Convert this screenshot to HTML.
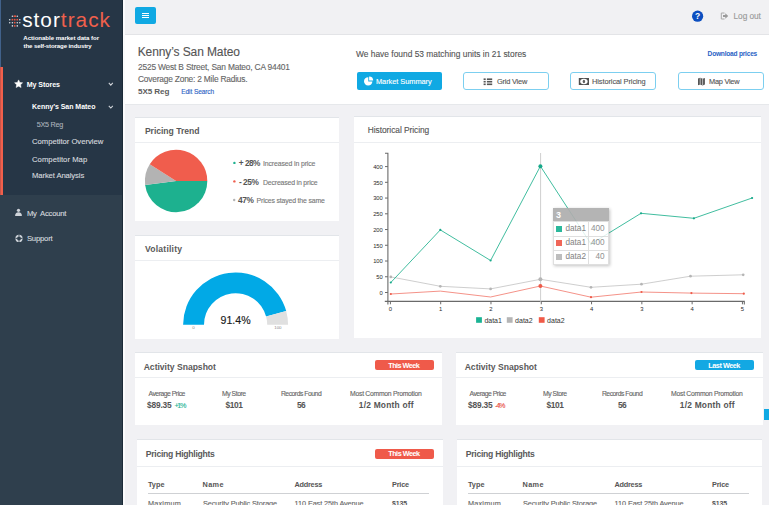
<!DOCTYPE html>
<html><head><meta charset="utf-8"><title>StorTrack</title>
<style>
*{box-sizing:border-box}
html,body{margin:0;padding:0}
body{width:769px;height:505px;overflow:hidden;position:relative;background:#f1f1f4;font-family:'Liberation Sans',Arial,sans-serif}
.a{position:absolute}
.t{position:absolute;white-space:pre;font-family:'Liberation Sans',Arial,sans-serif}
.card{position:absolute;background:#fff;border-top:1px solid #e2e5e9}
.hd{position:absolute;left:0;right:0;height:1px;background:#eceef1}
.btn{position:absolute;top:72px;height:18px;border:1px solid #7ccff0;border-radius:3px;background:#fff}
.badge{position:absolute;border-radius:2px}
</style></head><body>
<!-- sidebar -->
<div class="a" style="left:0;top:0;width:123px;height:505px;background:#2f3f4d"></div>
<div class="a" style="left:0;top:0;width:123px;height:195px;background:#263646"></div>
<div class="a" style="left:122px;top:0;width:1px;height:505px;background:#1b2a37"></div>
<div class="a" style="left:123px;top:0;width:2px;height:505px;background:#fbfbfc"></div>
<div class="a" style="left:0;top:0;width:1px;height:67px;background:#41618a"></div>
<div class="a" style="left:0;top:67px;width:3px;height:128px;background:#f05f4b"></div>
<div class="a" style="left:0;top:67px;width:1px;height:128px;background:#c9544a"></div>
<!-- logo -->
<svg class="a" style="left:0;top:0" width="123" height="60" viewBox="0 0 123 60">
 <g fill="#d9dde2">
  <circle cx="12.4" cy="16.2" r="0.8"/><circle cx="17.3" cy="16.2" r="0.8"/>
  <circle cx="9.7" cy="19.7" r="0.8"/><circle cx="19.8" cy="19.7" r="0.8"/>
  <circle cx="9.7" cy="22.7" r="0.8"/><circle cx="12.4" cy="22.7" r="0.8"/><circle cx="17.3" cy="22.7" r="0.8"/><circle cx="19.8" cy="22.7" r="0.8"/>
  <circle cx="12.4" cy="25.9" r="0.8"/><circle cx="17.3" cy="25.9" r="0.8"/>
 </g>
 <g fill="#e8553f">
  <rect x="13.6" y="15.4" width="2.4" height="1.6"/>
  <circle cx="12.4" cy="19.7" r="0.9"/><circle cx="14.75" cy="19.7" r="0.9"/><circle cx="17.3" cy="19.7" r="0.9"/>
  <circle cx="14.75" cy="22.7" r="0.9"/><circle cx="14.75" cy="25.9" r="0.9"/>
 </g>
</svg>
<div class="t" style="left:22.2px;top:10.4px;font-size:20.8px;line-height:20.8px;letter-spacing:1.0px;color:#fff">stor<span style="color:#f0604c">track</span></div>
<!-- sidebar icons -->
<svg class="a" style="left:0;top:60px" width="123" height="200" viewBox="0 60 123 200">
 <polygon fill="#fff" stroke="#fff" stroke-width="0.5" stroke-linejoin="round" points="18.60,79.90 19.80,82.44 22.59,82.80 20.55,84.73 21.07,87.50 18.60,86.15 16.13,87.50 16.65,84.73 14.61,82.80 17.40,82.44"/>
 <polyline fill="none" stroke="#d0d4d9" stroke-width="1.1" points="108.8,82.9 110.8,85.1 112.8,82.9"/>
 <polyline fill="none" stroke="#d0d4d9" stroke-width="1.1" points="108.8,105.8 110.8,108 112.8,105.8"/>
 <g fill="#cfd4da">
  <circle cx="18.5" cy="210.3" r="1.6"/>
  <path d="M15.1 216 C15.1 213.4 16.3 212.3 18.5 212.3 C20.7 212.3 21.9 213.4 21.9 216 Z"/>
 </g>
 <g fill="none" stroke="#cfd4da">
  <circle cx="19" cy="238.4" r="2.8" stroke-width="1.6"/>
 </g>
 <g stroke="#2f3f4d" stroke-width="0.9">
  <line x1="19" y1="235" x2="19" y2="236.6"/><line x1="19" y1="240.2" x2="19" y2="241.8"/>
  <line x1="15.6" y1="238.4" x2="17.2" y2="238.4"/><line x1="20.8" y1="238.4" x2="22.4" y2="238.4"/>
 </g>
</svg>
<!-- header -->
<div class="a" style="left:125px;top:0;width:644px;height:35px;background:#f1f1f3;border-bottom:1px solid #e3e4e7"></div>
<div class="a" style="left:135px;top:7px;width:21px;height:17px;background:#10a9e3;border-radius:2px"></div>
<div class="a" style="left:142px;top:12.8px;width:6.6px;height:1px;background:#fff"></div>
<div class="a" style="left:142px;top:14.9px;width:6.6px;height:1px;background:#fff"></div>
<div class="a" style="left:142px;top:17.1px;width:6.6px;height:1px;background:#fff"></div>
<svg class="a" style="left:680px;top:0" width="89" height="34" viewBox="680 0 89 34">
 <circle cx="697.6" cy="16.2" r="5.6" fill="#0c4fc0"/>
 <text x="697.6" y="19.3" text-anchor="middle" font-family="Liberation Sans, Arial, sans-serif" font-weight="700" font-size="8.5" fill="#fff">?</text>
 <path d="M724.5 13 H721.3 V19 H724.5" fill="none" stroke="#a9a9a9" stroke-width="1"/>
 <path d="M723 15 H725.3 V13.3 L728.2 16 L725.3 18.7 V17 H723 Z" fill="#9a9a9a"/>
</svg>
<!-- info panel -->
<div class="a" style="left:125px;top:35px;width:644px;height:70px;background:#fff;border-bottom:1px solid #e6e8eb"></div>
<div class="a" style="left:357px;top:72px;width:85px;height:18px;background:#10a9e3;border-radius:2px"></div>
<div class="btn" style="left:463px;width:86px"></div>
<div class="btn" style="left:570px;width:86px"></div>
<div class="btn" style="left:678px;width:86px"></div>
<svg class="a" style="left:355px;top:70px" width="410" height="22" viewBox="355 70 410 22">
 <!-- pie icon -->
 <path d="M368.3 77.2 A4.2 4.2 0 1 0 372.4 81.5 L368.3 81.5 Z" fill="#fff"/>
 <path d="M369.1 76.4 A4.2 4.2 0 0 1 373.2 80.6 L369.1 80.6 Z" fill="#fff"/>
 <!-- list icon -->
 <g fill="#555">
  <rect x="483.6" y="78.4" width="2.1" height="1.6"/><rect x="486.9" y="78.4" width="5.3" height="1.6"/>
  <rect x="483.6" y="80.9" width="2.1" height="1.6"/><rect x="486.9" y="80.9" width="5.3" height="1.6"/>
  <rect x="483.6" y="83.5" width="2.1" height="1.6"/><rect x="486.9" y="83.5" width="5.3" height="1.6"/>
 </g>
 <!-- money icon -->
 <rect x="578.8" y="78" width="10.2" height="7" fill="#505050"/>
 <ellipse cx="583.9" cy="81.5" rx="3.7" ry="2.8" fill="#fff"/>
 <ellipse cx="583.9" cy="81.5" rx="1.2" ry="1.8" fill="#606060"/>
 <!-- map icon -->
 <path d="M698 78.6 L700.2 77.8 L702.6 78.8 L704.9 78 V84.6 L702.6 85.4 L700.2 84.4 L698 85.2 Z" fill="#555"/>
 <path d="M700.2 78 V84.4 M702.6 78.8 V85.2" stroke="#fff" stroke-width="0.6"/>
</svg>
<!-- cards -->
<div class="card" style="left:135px;top:117px;width:204px;height:104px"><div class="hd" style="top:24px"></div></div>
<div class="card" style="left:135px;top:235px;width:204px;height:104px"><div class="hd" style="top:24px"></div></div>
<div class="card" style="left:354px;top:116px;width:407px;height:222px"><div class="hd" style="top:24.5px"></div></div>
<div class="card" style="left:135px;top:352px;width:307px;height:73px"><div class="hd" style="top:24px"></div></div>
<div class="card" style="left:456px;top:352px;width:307px;height:73px"><div class="hd" style="top:24px"></div></div>
<div class="card" style="left:137px;top:439px;width:306px;height:70px"><div class="hd" style="top:25.7px"></div></div>
<div class="card" style="left:457px;top:439px;width:305px;height:70px"><div class="hd" style="top:25.7px"></div></div>
<div class="a" style="left:148px;top:493px;width:281px;height:1px;background:#cfd1d4"></div>
<div class="a" style="left:468px;top:493px;width:281px;height:1px;background:#cfd1d4"></div>
<div class="badge" style="left:375px;top:360px;width:59px;height:10.2px;background:#ef5a4a"></div>
<div class="badge" style="left:695px;top:360px;width:59.3px;height:10.2px;background:#13a8e3"></div>
<div class="badge" style="left:375.3px;top:448.7px;width:58.7px;height:10px;background:#ef5a4a"></div>
<div class="a" style="left:763.5px;top:409px;width:6px;height:10.5px;background:#10a9e3"></div>
<!-- pie -->
<svg class="a" style="left:135px;top:143px" width="204" height="78" viewBox="135 143 204 78">
 <path d="M176.1 180.9 L207.3 180.9 A31.2 31.2 0 0 1 145.15 184.9 Z" fill="#1db18f"/>
 <path d="M176.1 180.9 L145.15 184.9 A31.2 31.2 0 0 1 149.75 164.2 Z" fill="#b3b3b3"/>
 <path d="M176.1 180.9 L149.75 164.2 A31.2 31.2 0 0 1 207.3 180.9 Z" fill="#f05d4d"/>
 <circle cx="234.4" cy="162.9" r="1.2" fill="#1db18f"/>
 <circle cx="234.4" cy="181.4" r="1.2" fill="#f05d4d"/>
 <circle cx="234.2" cy="200" r="1.2" fill="#b3b3b3"/>
</svg>
<!-- gauge -->
<svg class="a" style="left:135px;top:261px" width="204" height="78" viewBox="135 261 204 78">
 <path d="M183.1 324.7 A52.5 52.5 0 0 1 286.2 311 L266.1 316.5 A31.6 31.6 0 0 0 204 324.7 Z" fill="#01a9e6"/>
 <path d="M286.2 311 A52.5 52.5 0 0 1 288.1 324.7 L267.2 324.7 A31.6 31.6 0 0 0 266.1 316.5 Z" fill="#e0e0e0"/>
 <text x="235.6" y="324" text-anchor="middle" font-family="Liberation Sans, Arial, sans-serif" font-size="10.6" fill="#1a1a1a" stroke="#1a1a1a" stroke-width="0.15">91.4%</text>
 <text x="193.6" y="329.4" text-anchor="middle" font-family="Liberation Sans, Arial, sans-serif" font-size="4.4" fill="#888">0</text>
 <text x="277.9" y="329.4" text-anchor="middle" font-family="Liberation Sans, Arial, sans-serif" font-size="4.4" fill="#888">100</text>
</svg>
<svg class="a" style="left:354px;top:142px" width="407" height="196" viewBox="354 142 407 196">
<path d="M385 153.2 H387.9 V301.4 H384.8" fill="none" stroke="#6a6a6a" stroke-width="1.1"/>
<line x1="385" y1="292.50" x2="387.9" y2="292.50" stroke="#6a6a6a" stroke-width="1"/>
<text x="382.8" y="294.80" text-anchor="end" font-size="5.8" fill="#2a2a2a">0</text>
<line x1="385" y1="276.76" x2="387.9" y2="276.76" stroke="#6a6a6a" stroke-width="1"/>
<text x="382.8" y="279.06" text-anchor="end" font-size="5.8" fill="#2a2a2a">50</text>
<line x1="385" y1="261.02" x2="387.9" y2="261.02" stroke="#6a6a6a" stroke-width="1"/>
<text x="382.8" y="263.32" text-anchor="end" font-size="5.8" fill="#2a2a2a">100</text>
<line x1="385" y1="245.28" x2="387.9" y2="245.28" stroke="#6a6a6a" stroke-width="1"/>
<text x="382.8" y="247.58" text-anchor="end" font-size="5.8" fill="#2a2a2a">150</text>
<line x1="385" y1="229.54" x2="387.9" y2="229.54" stroke="#6a6a6a" stroke-width="1"/>
<text x="382.8" y="231.84" text-anchor="end" font-size="5.8" fill="#2a2a2a">200</text>
<line x1="385" y1="213.80" x2="387.9" y2="213.80" stroke="#6a6a6a" stroke-width="1"/>
<text x="382.8" y="216.10" text-anchor="end" font-size="5.8" fill="#2a2a2a">250</text>
<line x1="385" y1="198.06" x2="387.9" y2="198.06" stroke="#6a6a6a" stroke-width="1"/>
<text x="382.8" y="200.36" text-anchor="end" font-size="5.8" fill="#2a2a2a">300</text>
<line x1="385" y1="182.32" x2="387.9" y2="182.32" stroke="#6a6a6a" stroke-width="1"/>
<text x="382.8" y="184.62" text-anchor="end" font-size="5.8" fill="#2a2a2a">350</text>
<line x1="385" y1="166.58" x2="387.9" y2="166.58" stroke="#6a6a6a" stroke-width="1"/>
<text x="382.8" y="168.88" text-anchor="end" font-size="5.8" fill="#2a2a2a">400</text>
<path d="M387.9 304.5 V301.4 H744.3 V304.5" fill="none" stroke="#6a6a6a" stroke-width="1.1"/>
<line x1="390.40" y1="301.4" x2="390.40" y2="304.3" stroke="#6a6a6a" stroke-width="1"/>
<text x="390.40" y="310.6" text-anchor="middle" font-size="5.9" fill="#2a2a2a">0</text>
<line x1="440.69" y1="301.4" x2="440.69" y2="304.3" stroke="#6a6a6a" stroke-width="1"/>
<text x="440.69" y="310.6" text-anchor="middle" font-size="5.9" fill="#2a2a2a">1</text>
<line x1="490.98" y1="301.4" x2="490.98" y2="304.3" stroke="#6a6a6a" stroke-width="1"/>
<text x="490.98" y="310.6" text-anchor="middle" font-size="5.9" fill="#2a2a2a">2</text>
<line x1="541.27" y1="301.4" x2="541.27" y2="304.3" stroke="#6a6a6a" stroke-width="1"/>
<text x="541.27" y="310.6" text-anchor="middle" font-size="5.9" fill="#2a2a2a">3</text>
<line x1="591.56" y1="301.4" x2="591.56" y2="304.3" stroke="#6a6a6a" stroke-width="1"/>
<text x="591.56" y="310.6" text-anchor="middle" font-size="5.9" fill="#2a2a2a">4</text>
<line x1="641.85" y1="301.4" x2="641.85" y2="304.3" stroke="#6a6a6a" stroke-width="1"/>
<text x="641.85" y="310.6" text-anchor="middle" font-size="5.9" fill="#2a2a2a">3</text>
<line x1="692.14" y1="301.4" x2="692.14" y2="304.3" stroke="#6a6a6a" stroke-width="1"/>
<text x="692.14" y="310.6" text-anchor="middle" font-size="5.9" fill="#2a2a2a">4</text>
<line x1="742.43" y1="301.4" x2="742.43" y2="304.3" stroke="#6a6a6a" stroke-width="1"/>
<text x="742.43" y="310.6" text-anchor="middle" font-size="5.9" fill="#2a2a2a">5</text>
<line x1="540.6" y1="153" x2="540.6" y2="301.6" stroke="#cfcfcf" stroke-width="1"/>
<polyline points="390.8,276.9 440.3,286.3 490.6,288.9 540.4,279.3 591,287.3 641.5,284.2 690.5,276.2 743.2,274.8" fill="none" stroke="#c8c8c8" stroke-width="0.9"/>
<polyline points="390.8,294 440.3,291.1 490.6,297 540.4,286 591,297.2 641.5,292 691.4,293.1 743.8,293.7" fill="none" stroke="#f3867a" stroke-width="0.9"/>
<polyline points="390.8,282.5 440.3,229.9 490.6,260.5 540.4,166.2 591,244 641,213.3 693.9,218.3 752.1,198" fill="none" stroke="#2bb594" stroke-width="0.9"/>
<circle cx="390.8" cy="276.9" r="1.35" fill="#b5b5b5"/>
<circle cx="440.3" cy="286.3" r="1.35" fill="#b5b5b5"/>
<circle cx="490.6" cy="288.9" r="1.35" fill="#b5b5b5"/>
<circle cx="540.4" cy="279.3" r="2.0" fill="#b5b5b5"/>
<circle cx="591" cy="287.3" r="1.35" fill="#b5b5b5"/>
<circle cx="641.5" cy="284.2" r="1.35" fill="#b5b5b5"/>
<circle cx="690.5" cy="276.2" r="1.35" fill="#b5b5b5"/>
<circle cx="743.2" cy="274.8" r="1.35" fill="#b5b5b5"/>
<circle cx="390.8" cy="294" r="1.1" fill="#ee5a48"/>
<circle cx="540.4" cy="286" r="2.0" fill="#ee5a48"/>
<circle cx="591" cy="297.2" r="1.1" fill="#ee5a48"/>
<circle cx="641.5" cy="292" r="1.1" fill="#ee5a48"/>
<circle cx="691.4" cy="293.1" r="1.1" fill="#ee5a48"/>
<circle cx="743.8" cy="293.7" r="1.1" fill="#ee5a48"/>
<circle cx="390.8" cy="282.5" r="1.1" fill="#17a98a"/>
<circle cx="440.3" cy="229.9" r="1.1" fill="#17a98a"/>
<circle cx="490.6" cy="260.5" r="1.1" fill="#17a98a"/>
<circle cx="540.4" cy="166.2" r="2.0" fill="#17a98a"/>
<circle cx="591" cy="244" r="1.1" fill="#17a98a"/>
<circle cx="641" cy="213.3" r="1.1" fill="#17a98a"/>
<circle cx="693.9" cy="218.3" r="1.1" fill="#17a98a"/>
<circle cx="752.1" cy="198" r="1.1" fill="#17a98a"/>
<rect x="476.1" y="317.2" width="5.8" height="5.6" fill="#1ab394"/>
<text x="484.40000000000003" y="322.6" font-size="7" fill="#333">data1</text>
<rect x="506.8" y="317.2" width="5.8" height="5.6" fill="#b5b5b5"/>
<text x="515.1" y="322.6" font-size="7" fill="#333">data2</text>
<rect x="538.8" y="317.2" width="5.8" height="5.6" fill="#f05a48"/>
<text x="547.0999999999999" y="322.6" font-size="7" fill="#333">data2</text>
</svg>
<div class="a" style="left:552.6px;top:208.3px;width:56px;height:56.3px;background:rgba(255,255,255,0.9);box-shadow:1px 1px 3px rgba(0,0,0,0.25);opacity:0.92;font-family:'Liberation Sans',Arial,sans-serif">
<div class="a" style="left:0;top:0;width:56px;height:13.2px;background:#aeaeae"></div>
<div class="a" style="left:3.4px;top:2.6px;font-size:9px;line-height:9px;font-weight:700;color:#fff">3</div>
<div class="a" style="left:0;top:13.2px;width:56px;height:1px;background:#ddd"></div>
<div class="a" style="left:0;top:27.6px;width:56px;height:1px;background:#ddd"></div>
<div class="a" style="left:0;top:41.6px;width:56px;height:1px;background:#ddd"></div>
<div class="a" style="left:0;top:13.2px;width:1px;height:43px;background:#ddd"></div>
<div class="a" style="left:55px;top:13.2px;width:1px;height:43px;background:#ddd"></div>
<div class="a" style="left:0;top:55.3px;width:56px;height:1px;background:#ddd"></div>
<div class="a" style="left:35.6px;top:13.2px;width:1px;height:43px;background:#ddd"></div>
<div class="a" style="left:3.6px;top:17.5px;width:6px;height:6px;background:#1ab394"></div>
<div class="a" style="left:3.6px;top:31.7px;width:6px;height:6px;background:#ef5a4a"></div>
<div class="a" style="left:3.6px;top:45.7px;width:6px;height:6px;background:#b8b8b8"></div>
<div class="a" style="left:12.9px;top:16.4px;font-size:8.2px;line-height:8.4px;color:#777">data1</div>
<div class="a" style="left:12.9px;top:30.6px;font-size:8.2px;line-height:8.4px;color:#777">data1</div>
<div class="a" style="left:12.9px;top:44.6px;font-size:8.2px;line-height:8.4px;color:#777">data2</div>
<div class="a" style="right:4px;top:16.4px;font-size:8.2px;line-height:8.4px;color:#888;text-align:right">400</div>
<div class="a" style="right:4px;top:30.6px;font-size:8.2px;line-height:8.4px;color:#888;text-align:right">400</div>
<div class="a" style="right:4px;top:44.6px;font-size:8.2px;line-height:8.4px;color:#888;text-align:right">40</div>
</div>
<div class="t g" style="left:23.3px;top:35.011px;font-size:6.1px;line-height:6.1px;font-weight:700;color:#fff;letter-spacing:-0.044px;">Actionable market data for</div>
<div class="t g" style="left:23.6px;top:43.002px;font-size:6.1px;line-height:6.1px;font-weight:700;color:#fff;letter-spacing:-0.126px;">the self-storage industry</div>
<div class="t g" style="left:26.7px;top:82.015px;font-size:7.1px;line-height:7.1px;font-weight:700;color:#fff;letter-spacing:-0.082px;">My Stores</div>
<div class="t g" style="left:32px;top:103.012px;font-size:7.0px;line-height:7.0px;font-weight:700;color:#fff;letter-spacing:-0.028px;">Kenny’s San Mateo</div>
<div class="t g" style="left:36.8px;top:121.005px;font-size:7.2px;line-height:7.2px;font-weight:400;color:#aab2bb;letter-spacing:-0.262px;-webkit-text-stroke:0.12px;">5X5 Reg</div>
<div class="t g" style="left:32px;top:138.01px;font-size:7.7px;line-height:7.7px;font-weight:400;color:#d5d9de;letter-spacing:-0.029px;-webkit-text-stroke:0.12px;">Competitor Overview</div>
<div class="t g" style="left:32px;top:156.013px;font-size:7.7px;line-height:7.7px;font-weight:400;color:#d5d9de;letter-spacing:0.038px;-webkit-text-stroke:0.12px;">Competitor Map</div>
<div class="t g" style="left:32px;top:172.004px;font-size:7.7px;line-height:7.7px;font-weight:400;color:#d5d9de;letter-spacing:-0.115px;-webkit-text-stroke:0.12px;">Market Analysis</div>
<div class="t g" style="left:26.9px;top:210.004px;font-size:7.7px;line-height:7.7px;font-weight:400;color:#d5d9de;letter-spacing:-0.236px;-webkit-text-stroke:0.12px;">My  Account</div>
<div class="t g" style="left:26.9px;top:235.007px;font-size:7.7px;line-height:7.7px;font-weight:400;color:#d5d9de;letter-spacing:-0.182px;-webkit-text-stroke:0.12px;">Support</div>
<div class="t g" style="left:733.5px;top:12.015px;font-size:8.3px;line-height:8.3px;font-weight:400;color:#999;letter-spacing:-0.046px;-webkit-text-stroke:0.12px;">Log out</div>
<div class="t g" style="left:137.7px;top:46.011px;font-size:12.0px;line-height:12.0px;font-weight:400;color:#555;letter-spacing:-0.104px;-webkit-text-stroke:0.12px;">Kenny’s San Mateo</div>
<div class="t g" style="left:138px;top:63.005px;font-size:8.4px;line-height:8.4px;font-weight:400;color:#666;letter-spacing:-0.186px;-webkit-text-stroke:0.12px;">2525 West B Street, San Mateo, CA 94401</div>
<div class="t g" style="left:138px;top:75.005px;font-size:8.4px;line-height:8.4px;font-weight:400;color:#666;letter-spacing:-0.208px;-webkit-text-stroke:0.12px;">Coverage Zone: 2 Mile Radius.</div>
<div class="t g" style="left:138px;top:88.006px;font-size:8.1px;line-height:8.1px;font-weight:700;color:#5c5c5c;letter-spacing:-0.099px;">5X5 Reg</div>
<div class="t g" style="left:181.3px;top:89.01px;font-size:6.6px;line-height:6.6px;font-weight:400;color:#2a62c5;letter-spacing:-0.122px;-webkit-text-stroke:0.12px;">Edit Search</div>
<div class="t g" style="left:356px;top:50.008px;font-size:8.4px;line-height:8.4px;font-weight:400;color:#555;letter-spacing:0.012px;-webkit-text-stroke:0.12px;">We have found 53 matching units in 21 stores</div>
<div class="t g" style="left:707.6px;top:51.01px;font-size:6.6px;line-height:6.6px;font-weight:700;color:#2a62c5;letter-spacing:-0.221px;">Download prices</div>
<div class="t g" style="left:376px;top:78.014px;font-size:7.4px;line-height:7.4px;font-weight:400;color:#fff;letter-spacing:-0.043px;-webkit-text-stroke:0.12px;">Market Summary</div>
<div class="t g" style="left:496.9px;top:78.014px;font-size:7.4px;line-height:7.4px;font-weight:400;color:#555;letter-spacing:-0.183px;-webkit-text-stroke:0.12px;">Grid View</div>
<div class="t g" style="left:592px;top:78.014px;font-size:7.4px;line-height:7.4px;font-weight:400;color:#555;letter-spacing:-0.078px;-webkit-text-stroke:0.12px;">Historical Pricing</div>
<div class="t g" style="left:709px;top:78.014px;font-size:7.4px;line-height:7.4px;font-weight:400;color:#555;letter-spacing:-0.254px;-webkit-text-stroke:0.12px;">Map View</div>
<div class="t g" style="left:144.9px;top:127.001px;font-size:8.6px;line-height:8.6px;font-weight:700;color:#5a5a5a;letter-spacing:-0.03px;">Pricing Trend</div>
<div class="t g" style="left:238.7px;top:159.002px;font-size:8.3px;line-height:8.3px;font-weight:700;color:#555;letter-spacing:0px;">+</div>
<div class="t g" style="left:244.9px;top:159.002px;font-size:8.3px;line-height:8.3px;font-weight:700;color:#555;letter-spacing:-0.614px;">28%</div>
<div class="t g" style="left:263px;top:161.015px;font-size:6.9px;line-height:6.9px;font-weight:400;color:#777;letter-spacing:-0.115px;-webkit-text-stroke:0.12px;">Increased in price</div>
<div class="t g" style="left:238.9px;top:178.008px;font-size:8.3px;line-height:8.3px;font-weight:700;color:#555;letter-spacing:0px;">-</div>
<div class="t g" style="left:243.1px;top:178.008px;font-size:8.3px;line-height:8.3px;font-weight:700;color:#555;letter-spacing:-0.414px;">25%</div>
<div class="t g" style="left:263px;top:180.006px;font-size:6.9px;line-height:6.9px;font-weight:400;color:#777;letter-spacing:-0.166px;-webkit-text-stroke:0.12px;">Decreased in price</div>
<div class="t g" style="left:238px;top:196.015px;font-size:8.3px;line-height:8.3px;font-weight:700;color:#555;letter-spacing:-0.364px;">47%</div>
<div class="t g" style="left:256.6px;top:198.012px;font-size:6.9px;line-height:6.9px;font-weight:400;color:#777;letter-spacing:-0.161px;-webkit-text-stroke:0.12px;">Prices stayed the same</div>
<div class="t g" style="left:144.9px;top:245.001px;font-size:8.6px;line-height:8.6px;font-weight:700;color:#5a5a5a;letter-spacing:0.223px;">Volatility</div>
<div class="t g" style="left:367.8px;top:126.005px;font-size:8.4px;line-height:8.4px;font-weight:400;color:#555;letter-spacing:-0.053px;-webkit-text-stroke:0.12px;">Historical Pricing</div>
<div class="t g" style="left:143.7px;top:363.014px;font-size:8.6px;line-height:8.6px;font-weight:700;color:#5a5a5a;letter-spacing:-0.02px;">Activity Snapshot</div>
<div class="t g" style="left:148.5px;top:391.0px;font-size:6.8px;line-height:6.8px;font-weight:400;color:#666;letter-spacing:-0.474px;-webkit-text-stroke:0.12px;">Average Price</div>
<div class="t g" style="left:147.1px;top:401.002px;font-size:8.4px;line-height:8.4px;font-weight:700;color:#555;letter-spacing:-0.212px;">$89.35</div>
<div class="t g" style="left:174.5px;top:402.002px;font-size:7.2px;line-height:7.2px;font-weight:400;color:#1ab394;letter-spacing:-1.347px;-webkit-text-stroke:0.12px;">+1%</div>
<div class="t g" style="left:222px;top:391.0px;font-size:6.8px;line-height:6.8px;font-weight:400;color:#666;letter-spacing:-0.445px;-webkit-text-stroke:0.12px;">My Store</div>
<div class="t g" style="left:225.5px;top:401.002px;font-size:8.4px;line-height:8.4px;font-weight:700;color:#555;letter-spacing:-0.424px;">$101</div>
<div class="t g" style="left:280.9px;top:391.0px;font-size:6.8px;line-height:6.8px;font-weight:400;color:#666;letter-spacing:-0.474px;-webkit-text-stroke:0.12px;">Records Found</div>
<div class="t g" style="left:296.9px;top:401.002px;font-size:8.4px;line-height:8.4px;font-weight:700;color:#555;letter-spacing:-0.558px;">56</div>
<div class="t g" style="left:350.1px;top:391.0px;font-size:6.8px;line-height:6.8px;font-weight:400;color:#666;letter-spacing:-0.269px;-webkit-text-stroke:0.12px;">Most Common Promotion</div>
<div class="t g" style="left:358.8px;top:401.002px;font-size:8.4px;line-height:8.4px;font-weight:700;color:#555;letter-spacing:0.224px;">1/2 Month off</div>
<div class="t g" style="left:464.7px;top:363.014px;font-size:8.6px;line-height:8.6px;font-weight:700;color:#5a5a5a;letter-spacing:-0.02px;">Activity Snapshot</div>
<div class="t g" style="left:469.5px;top:391.0px;font-size:6.8px;line-height:6.8px;font-weight:400;color:#666;letter-spacing:-0.474px;-webkit-text-stroke:0.12px;">Average Price</div>
<div class="t g" style="left:468.1px;top:401.002px;font-size:8.4px;line-height:8.4px;font-weight:700;color:#555;letter-spacing:-0.212px;">$89.35</div>
<div class="t g" style="left:495.1px;top:402.002px;font-size:7.2px;line-height:7.2px;font-weight:400;color:#e8493b;letter-spacing:-1.245px;-webkit-text-stroke:0.12px;">-4%</div>
<div class="t g" style="left:543px;top:391.0px;font-size:6.8px;line-height:6.8px;font-weight:400;color:#666;letter-spacing:-0.445px;-webkit-text-stroke:0.12px;">My Store</div>
<div class="t g" style="left:546.5px;top:401.002px;font-size:8.4px;line-height:8.4px;font-weight:700;color:#555;letter-spacing:-0.424px;">$101</div>
<div class="t g" style="left:601.9px;top:391.0px;font-size:6.8px;line-height:6.8px;font-weight:400;color:#666;letter-spacing:-0.474px;-webkit-text-stroke:0.12px;">Records Found</div>
<div class="t g" style="left:617.9px;top:401.002px;font-size:8.4px;line-height:8.4px;font-weight:700;color:#555;letter-spacing:-0.558px;">56</div>
<div class="t g" style="left:671.1px;top:391.0px;font-size:6.8px;line-height:6.8px;font-weight:400;color:#666;letter-spacing:-0.269px;-webkit-text-stroke:0.12px;">Most Common Promotion</div>
<div class="t g" style="left:679.8px;top:401.002px;font-size:8.4px;line-height:8.4px;font-weight:700;color:#555;letter-spacing:0.224px;">1/2 Month off</div>
<div class="t g" style="left:145.8px;top:450.008px;font-size:8.6px;line-height:8.6px;font-weight:700;color:#5a5a5a;letter-spacing:-0.262px;">Pricing Highlights</div>
<div class="t g" style="left:147.9px;top:481.002px;font-size:7.3px;line-height:7.3px;font-weight:700;color:#555;letter-spacing:0.056px;">Type</div>
<div class="t g" style="left:202.6px;top:481.002px;font-size:7.3px;line-height:7.3px;font-weight:700;color:#555;letter-spacing:0.328px;">Name</div>
<div class="t g" style="left:294.6px;top:481.002px;font-size:7.3px;line-height:7.3px;font-weight:700;color:#555;letter-spacing:-0.257px;">Address</div>
<div class="t g" style="left:392px;top:481.002px;font-size:7.3px;line-height:7.3px;font-weight:700;color:#555;letter-spacing:-0.198px;">Price</div>
<div class="t g" style="left:147.9px;top:500.014px;font-size:7.3px;line-height:7.3px;font-weight:400;color:#666;letter-spacing:0.21px;-webkit-text-stroke:0.12px;">Maximum</div>
<div class="t g" style="left:203px;top:500.014px;font-size:7.3px;line-height:7.3px;font-weight:400;color:#666;letter-spacing:-0.077px;-webkit-text-stroke:0.12px;">Security Public Storage</div>
<div class="t g" style="left:294.6px;top:500.014px;font-size:7.3px;line-height:7.3px;font-weight:400;color:#666;letter-spacing:-0.093px;-webkit-text-stroke:0.12px;">110 East 25th Avenue</div>
<div class="t g" style="left:392px;top:500.003px;font-size:7.0px;line-height:7.0px;font-weight:700;color:#555;letter-spacing:-0.126px;">$135</div>
<div class="t g" style="left:465.8px;top:450.008px;font-size:8.6px;line-height:8.6px;font-weight:700;color:#5a5a5a;letter-spacing:-0.262px;">Pricing Highlights</div>
<div class="t g" style="left:467.9px;top:481.002px;font-size:7.3px;line-height:7.3px;font-weight:700;color:#555;letter-spacing:0.056px;">Type</div>
<div class="t g" style="left:522.6px;top:481.002px;font-size:7.3px;line-height:7.3px;font-weight:700;color:#555;letter-spacing:0.328px;">Name</div>
<div class="t g" style="left:614.6px;top:481.002px;font-size:7.3px;line-height:7.3px;font-weight:700;color:#555;letter-spacing:-0.257px;">Address</div>
<div class="t g" style="left:712px;top:481.002px;font-size:7.3px;line-height:7.3px;font-weight:700;color:#555;letter-spacing:-0.198px;">Price</div>
<div class="t g" style="left:467.9px;top:500.014px;font-size:7.3px;line-height:7.3px;font-weight:400;color:#666;letter-spacing:0.21px;-webkit-text-stroke:0.12px;">Maximum</div>
<div class="t g" style="left:523px;top:500.014px;font-size:7.3px;line-height:7.3px;font-weight:400;color:#666;letter-spacing:-0.077px;-webkit-text-stroke:0.12px;">Security Public Storage</div>
<div class="t g" style="left:614.6px;top:500.014px;font-size:7.3px;line-height:7.3px;font-weight:400;color:#666;letter-spacing:-0.093px;-webkit-text-stroke:0.12px;">110 East 25th Avenue</div>
<div class="t g" style="left:712px;top:500.003px;font-size:7.0px;line-height:7.0px;font-weight:700;color:#555;letter-spacing:-0.126px;">$135</div>
<div class="t g" style="left:388.3px;top:362.002px;font-size:7.3px;line-height:7.3px;font-weight:700;color:#fff;letter-spacing:-0.562px;">This Week</div>
<div class="t g" style="left:708.3px;top:362.002px;font-size:7.3px;line-height:7.3px;font-weight:700;color:#fff;letter-spacing:-0.488px;">Last Week</div>
<div class="t g" style="left:388.2px;top:450.002px;font-size:7.3px;line-height:7.3px;font-weight:700;color:#fff;letter-spacing:-0.5px;">This Week</div>
</body></html>
